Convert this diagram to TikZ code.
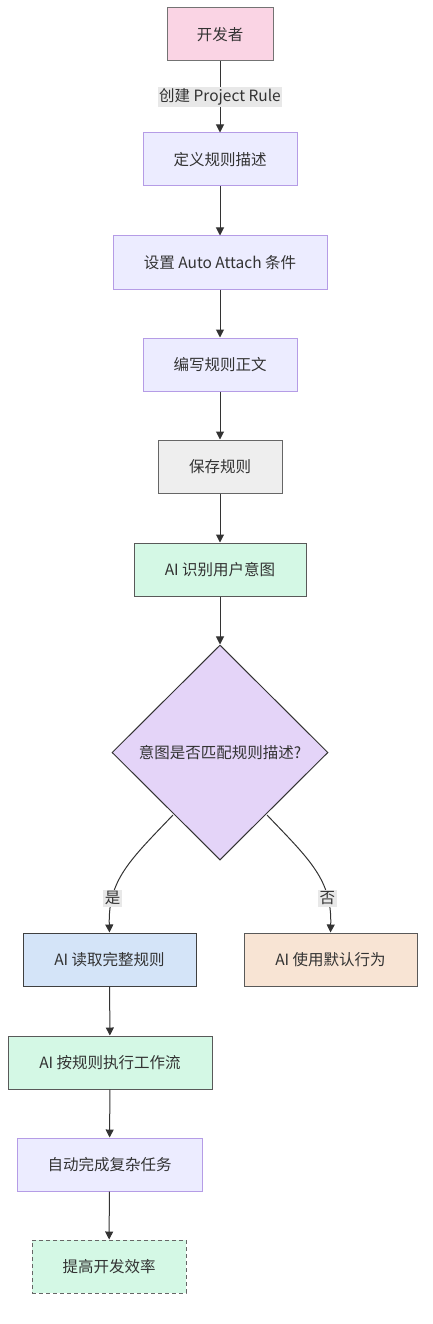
\documentclass[tikz,border=0pt]{standalone}
\usepackage{fontspec}
\setmainfont{Noto Sans CJK SC}
\usetikzlibrary{shapes.geometric,arrows.meta}
\definecolor{pinkf}{HTML}{FAD4E4}
\definecolor{purf}{HTML}{ECECFF}
\definecolor{purd}{HTML}{B59CE6}
\definecolor{grayf}{HTML}{EEEEEE}
\definecolor{mintf}{HTML}{D4F8E5}
\definecolor{diaf}{HTML}{E4D4F8}
\definecolor{bluef}{HTML}{D4E4F8}
\definecolor{peachf}{HTML}{F8E4D4}
\definecolor{lblf}{HTML}{E8E8E8}
\definecolor{ln}{HTML}{333333}
\tikzset{
  box/.style={rectangle, draw, line width=1pt, minimum height=53pt, inner sep=0pt, font=\fontsize{15.5}{18}\selectfont, text=ln},
  pinkbox/.style={box, fill=pinkf, draw=black!55},
  purbox/.style={box, fill=purf, draw=purd},
  graybox/.style={box, fill=grayf, draw=black!60},
  mintbox/.style={box, fill=mintf, draw=black!65},
  bluebox/.style={box, fill=bluef, draw=black!75},
  peachbox/.style={box, fill=peachf, draw=black!65},
  dashbox/.style={box, fill=mintf, draw=black!60, dashed, dash pattern=on 4pt off 3pt},
  conn/.style={draw=ln, line width=1pt, -{Triangle[length=8pt,width=8pt]}},
  lbl/.style={fill=lblf, inner sep=1.5pt, font=\fontsize{15.5}{18}\selectfont, text=ln},
}
\begin{document}
\begin{tikzpicture}[x=1pt,y=-1pt]
\useasboundingbox (0,0) rectangle (432,1324);
\node[pinkbox, minimum width=106pt] (dev) at (220,34.5) {开发者};
\node[purbox, minimum width=154pt] (def) at (220,159.5) {定义规则描述};
\node[purbox, minimum width=214pt] (set) at (220,262.5) {设置 Auto Attach 条件};
\node[purbox, minimum width=154pt] (wri) at (220,364.5) {编写规则正文};
\node[graybox, minimum width=124pt] (sav) at (220,466.5) {保存规则};
\node[mintbox, minimum width=172pt] (rec) at (220,569.5) {AI 识别用户意图};
\node[diamond, draw=ln, line width=1pt, fill=diaf, minimum width=216pt, minimum height=215pt, inner sep=0pt, font=\fontsize{15.5}{18}\selectfont, text=ln] (dia) at (220,752.5) {意图是否匹配规则描述?};
\node[bluebox, minimum width=173pt] (rd) at (109.5,959.5) {AI 读取完整规则};
\node[peachbox, minimum width=173pt] (df) at (330.5,959.5) {AI 使用默认行为};
\node[mintbox, minimum width=204pt] (ex) at (110,1062.5) {AI 按规则执行工作流};
\node[purbox, minimum width=185pt] (au) at (109.5,1164.5) {自动完成复杂任务};
\node[dashbox, minimum width=154pt] (eff) at (109,1266.5) {提高开发效率};

\draw[conn] (dev) -- node[lbl] {创建 Project Rule} (def);
\draw[conn] (def) -- (set);
\draw[conn] (set) -- (wri);
\draw[conn] (wri) -- (sav);
\draw[conn] (sav) -- (rec);
\draw[conn] (rec) -- (dia);
\coordinate (dl) at (173,815);
\coordinate (dr) at (267,815);
\draw[conn] (dl) .. controls (130,860) and (108,880) .. node[lbl, pos=0.75] {是} (rd.north);
\draw[conn] (dr) .. controls (310,860) and (332,880) .. node[lbl, pos=0.75] {否} (df.north);
\draw[conn] (rd) -- (ex);
\draw[conn] (ex) -- (au);
\draw[conn] (au) -- (eff);
\end{tikzpicture}
\end{document}
